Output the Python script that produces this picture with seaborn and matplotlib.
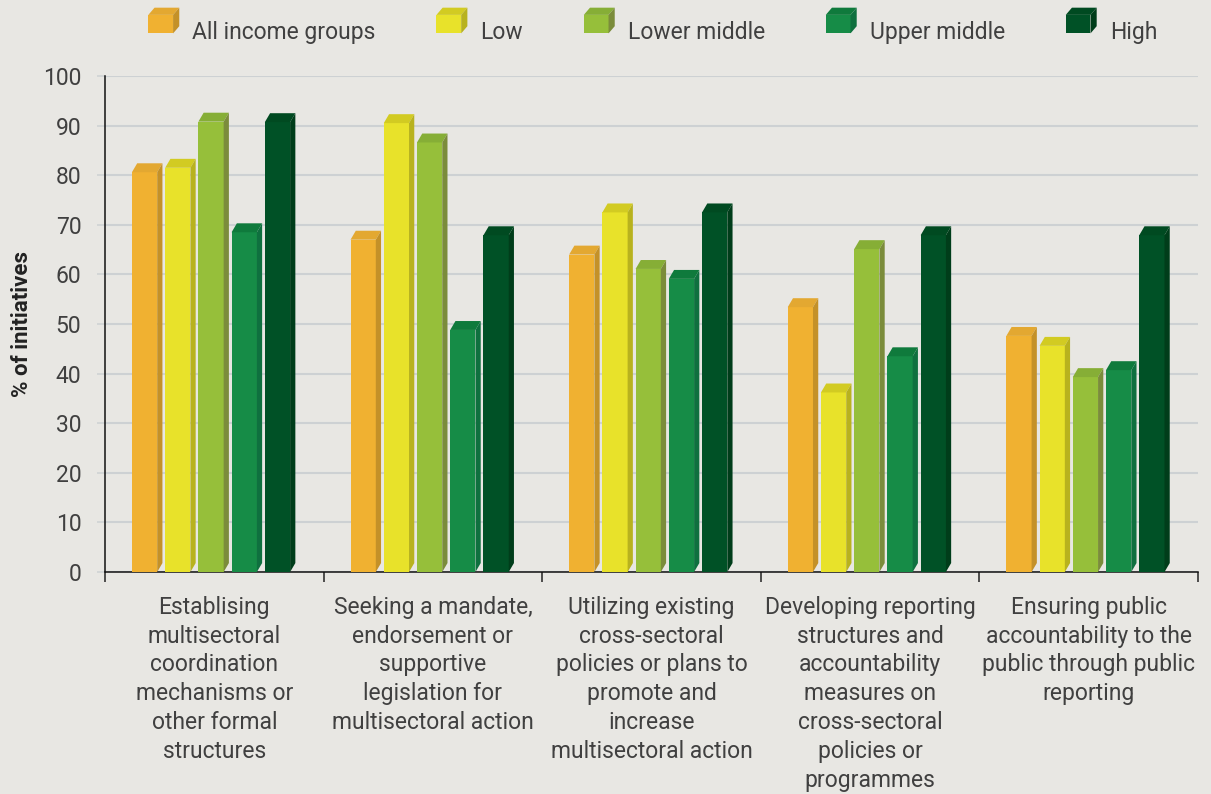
#!/usr/bin/env python3

import numpy as np                  # numbers
import pandas as pd                 # handling data
import matplotlib.pyplot as plt     # figure and axes
import seaborn as sns               # bar plotting
from matplotlib.patches import Polygon, Rectangle, Patch


# Values (% of initiatives)
categories = [
    'Establising\nmultisectoral\ncoordination\nmechanisms or\nother formal\nstructures',
    'Seeking a mandate,\nendorsement or\nsupportive\nlegislation for\nmultisectoral action',
    'Utilizing existing\ncross-sectoral\npolicies or plans to\npromote and\nincrease\nmultisectoral action',
    'Developing reporting\nstructures and\naccountability\nmeasures on\ncross-sectoral\npolicies or\nprogrammes',
    'Ensuring public\naccountability to the\npublic through public\nreporting',
]
groups = ['All income groups', 'Low', 'Lower middle', 'Upper middle', 'High']

all_income = [80.6, 67.0, 64.0, 53.4, 47.6]
low = [81.5, 90.5, 72.5, 36.2, 45.6]
lower_middle = [90.8, 86.6, 61.1, 65.1, 39.3]
upper_middle = [68.5, 48.8, 59.1, 43.5, 40.7]
high = [90.7, 67.9, 72.5, 67.9, 67.9]

# colours of the front, top and side faces of each bar
front_colors = ['#F0B131', '#E8E22A', '#96BF3A', '#168C47', '#005126']
top_colors = ['#E3A831', '#D2CB22', '#86AE36', '#0F7A3C', '#004A21']
side_colors = ['#C49128', '#B8B21E', '#7B8C3B', '#0F703F', '#003D1A']

BG = '#E8E7E3'
GRID = '#CDD1D3'
TEXT = '#404040'


class CubeHandler:
    """Draw a little 3D box as legend key"""

    def __init__(self, faces):
        self.faces = faces

    def legend_artist(self, legend, orig_handle, fontsize, handlebox):
        x0, y0 = handlebox.xdescent, handlebox.ydescent
        w, h = handlebox.width, handlebox.height
        fw, fh = w * 0.8, h * 0.72
        top_c, side_c = self.faces[orig_handle.get_label()]
        tr = handlebox.get_transform()
        front = Rectangle((x0, y0), fw, fh, facecolor=orig_handle.get_facecolor(), lw=0, transform=tr)
        top = Polygon([(x0, y0 + fh), (x0 + fw, y0 + fh), (x0 + w, y0 + h), (x0 + w - fw, y0 + h)],
                      facecolor=top_c, lw=0, transform=tr)
        side = Polygon([(x0 + fw, y0), (x0 + w, y0 + h - fh), (x0 + w, y0 + h), (x0 + fw, y0 + fh)],
                       facecolor=side_c, lw=0, transform=tr)
        for p in (front, top, side):
            handlebox.add_artist(p)
        return front


def main():
    sns.set_theme(style='white')
    plt.rcParams['font.family'] = ['Roboto', 'DejaVu Sans']

    # long format table for seaborn
    series = [all_income, low, lower_middle, upper_middle, high]
    df = pd.DataFrame({
        'category': categories * len(groups),
        'group': np.repeat(groups, len(categories)),
        'value': np.concatenate(series),
    })

    fig = plt.figure(figsize=(12.11, 7.94), dpi=100, facecolor=BG)
    ax = fig.add_axes([105 / 1211, 222 / 794, 1093 / 1211, 496 / 794], facecolor=BG)

    sns.barplot(data=df, x='category', y='value', hue='group', order=categories,
                hue_order=groups, palette=front_colors, width=0.76, gap=0.24,
                saturation=1, errorbar=None, legend=False, linewidth=0, ax=ax, zorder=3)

    # fake 3D: top and side faces on every bar
    dx, dy = 0.024, 1.8
    for cont, top_c, side_c in zip(ax.containers, top_colors, side_colors):
        for bar in cont:
            bar.set_x(bar.get_x() - 0.015)
            x0, w, h = bar.get_x(), bar.get_width(), bar.get_height()
            ax.add_patch(Polygon([(x0, h), (x0 + w, h), (x0 + w + dx, h + dy), (x0 + dx, h + dy)],
                                 facecolor=top_c, lw=0, zorder=3))
            ax.add_patch(Polygon([(x0 + w, 0), (x0 + w + dx, dy), (x0 + w + dx, h + dy), (x0 + w, h)],
                                 facecolor=side_c, lw=0, zorder=3))

    ax.set_xlim(-0.5, 4.5)
    ax.set_ylim(0, 100)
    ax.set_yticks(range(0, 101, 10))
    ax.yaxis.grid(True, color=GRID, lw=1.5)
    ax.set_axisbelow(True)
    ax.set_xlabel('')
    ax.set_ylabel('')

    # category separators as minor ticks
    ax.set_xticks(np.arange(-0.5, 5, 1), minor=True)
    ax.tick_params(axis='x', which='major', length=0, pad=17, labelsize=16.5, labelcolor=TEXT)
    ax.tick_params(axis='x', which='minor', length=7, width=1.1, color='#222222', bottom=True)
    ax.tick_params(axis='y', length=6, width=1.1, color=GRID, pad=11, labelsize=16.5,
                   labelcolor=TEXT, left=True)
    ax.yaxis.get_major_ticks()[0].tick1line.set_color('#111111')
    for lbl in ax.get_xticklabels():
        lbl.set_linespacing(1.33)

    for s in ('top', 'right'):
        ax.spines[s].set_visible(False)
    for s in ('left', 'bottom'):
        ax.spines[s].set_color('#111111')
        ax.spines[s].set_linewidth(1.1)

    fig.text(22 / 1211, 0.592, '% of initiatives', rotation=90, ha='center', va='center',
             fontsize=16, fontweight='bold', color='#222222')

    # legend with cube keys
    handles = [Patch(facecolor=c, label=g) for c, g in zip(front_colors, groups)]
    faces = {g: (t, s) for g, t, s in zip(groups, top_colors, side_colors)}
    leg = fig.legend(handles=handles, loc='center', bbox_to_anchor=(0.539, 0.961), ncol=5,
                     frameon=False, fontsize=16.5, handlelength=1.35, handleheight=1.35,
                     handletextpad=0.57, columnspacing=2.65,
                     handler_map={Patch: CubeHandler(faces)})
    for t in leg.get_texts():
        t.set_color(TEXT)

    plt.savefig('out.png', dpi=100, facecolor=BG)


if __name__ == '__main__':
    main()
